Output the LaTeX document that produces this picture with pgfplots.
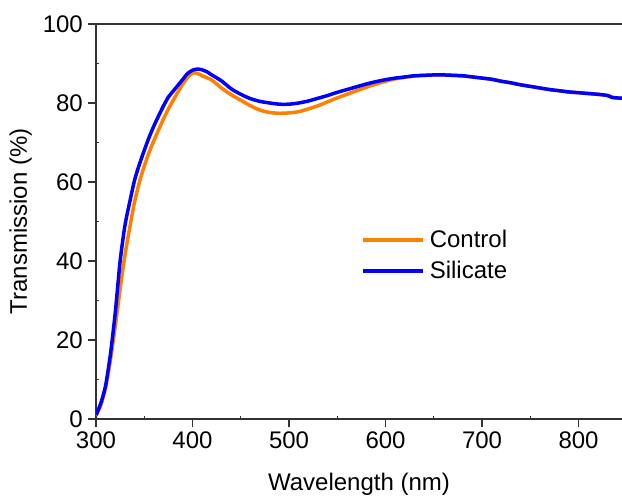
\documentclass[border=0pt]{standalone}
\usepackage{pgfplots}
\pgfplotsset{compat=1.18}
\usepackage{fontspec}
\setmainfont{Liberation Sans}
\definecolor{corange}{RGB}{255,127,0}
\definecolor{cblue}{RGB}{0,0,255}
\definecolor{axgray}{RGB}{50,50,50}
\pgfplotstableread{
x y
300 0.8
305 3.5
310 8
315 15
320 23.5
325 33
330 41.5
335 48.5
340 55
345 60
350 64
355 67.5
360 70.5
365 73.3
370 76
375 78.5
380 80.7
385 82.8
390 84.8
395 86.5
400 87.6
405 87.5
410 86.9
420 85.8
430 83.8
440 82.1
450 80.7
460 79.3
470 78.2
480 77.6
490 77.4
500 77.5
510 77.8
520 78.5
530 79.3
540 80.3
550 81.3
560 82.2
570 83.1
580 84.0
590 84.8
600 85.5
610 86.1
620 86.5
630 86.8
640 87.0
650 87.1
660 87.1
670 87.0
680 86.8
690 86.6
700 86.3
710 86.0
720 85.5
730 85.1
740 84.6
750 84.2
760 83.8
770 83.4
780 83.1
790 82.8
800 82.6
810 82.4
820 82.2
830 81.9
835 81.4
845 81.2
}\control
\pgfplotstableread{
x y
300 1.0
305 4
310 8.5
315 16.5
320 27
325 40
330 49
335 55
340 60.5
345 64.5
350 68
355 71.3
360 74.2
365 76.8
370 79.3
375 81.5
380 83
385 84.5
390 86
395 87.5
400 88.3
405 88.6
410 88.4
415 87.9
420 87.1
430 85.6
440 83.6
450 82.2
460 81.1
470 80.4
480 80.0
490 79.7
500 79.7
510 80.0
520 80.5
530 81.2
540 81.9
550 82.7
560 83.4
570 84.1
580 84.8
590 85.4
600 85.9
610 86.3
620 86.6
630 86.9
640 87.0
650 87.1
660 87.1
670 87.0
680 86.9
690 86.6
700 86.3
710 86.0
720 85.5
730 85.1
740 84.6
750 84.2
760 83.8
770 83.4
780 83.1
790 82.8
800 82.6
810 82.4
820 82.2
830 81.9
835 81.4
845 81.2
}\silicate
\begin{document}
\begin{tikzpicture}
\begin{axis}[
  name=ax,
  scale only axis,
  width=526pt, height=395pt,
  xmin=300, xmax=845, ymin=0, ymax=100,
  axis x line=box, axis y line=left,
  axis line style={axgray, line width=1.3pt, -},
  xtick={300,400,...,800}, ytick={0,20,...,100},
  minor x tick num=1, minor y tick num=1,
  tick align=outside,
  major tick length=8pt, minor tick length=-3pt,
  every tick/.style={axgray, line width=1.3pt},
  xtick pos=bottom,
  tick label style={font=\fontsize{24}{28}\selectfont, text=black, inner sep=5pt},
  /pgf/number format/assume math mode=true,
  label style={font=\fontsize{24}{28}\selectfont},
  xlabel={Wavelength (nm)},
  ylabel={Transmission (\%)},
  xlabel style={at={(axis description cs:0.5,-0.1367)}, anchor=north, inner sep=0pt},
  ylabel style={at={(axis description cs:-0.1217,0.5)}, anchor=south, rotate=0, inner sep=0pt},
  legend style={at={(axis description cs:0.5040,0.414)}, anchor=west, draw=none, fill=none,
    inner sep=0pt, font=\fontsize{24}{28}\selectfont, row sep=12pt, column sep=5pt,
    nodes={inner sep=0pt}},
  legend cell align=left,
  legend image code/.code={\draw[#1, line width=3.5pt] (0pt,0pt) -- (60pt,0pt);},
  clip=true,
]
\addplot[corange, line width=3.5pt, smooth, tension=0.4] table {\control};
\addlegendentry{Control}
\addplot[cblue, line width=3.5pt, smooth, tension=0.4] table {\silicate};
\addlegendentry{Silicate}
\end{axis}
\pgfresetboundingbox
\path[use as bounding box] ([shift={(-96pt,-78pt)}]ax.south west) rectangle ([shift={(0pt,24pt)}]ax.north east);
\end{tikzpicture}
\end{document}
